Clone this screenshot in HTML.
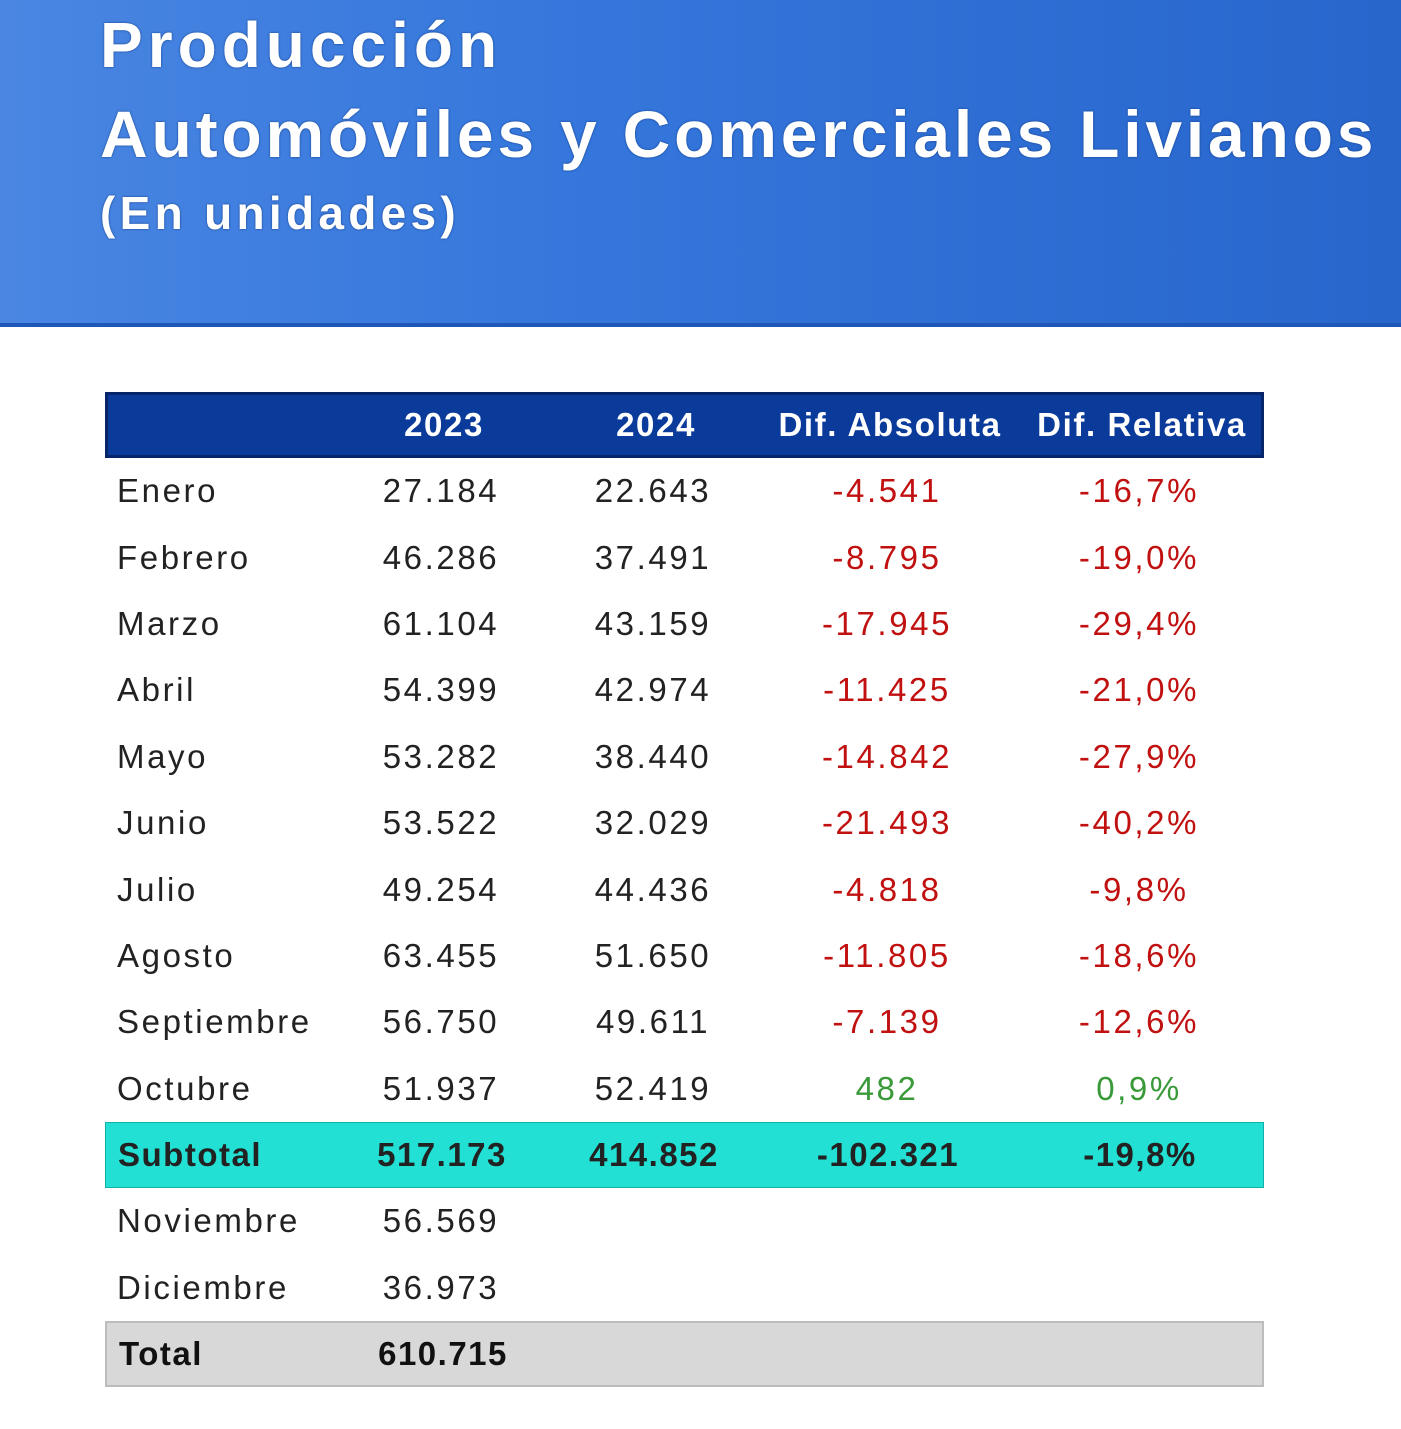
<!DOCTYPE html>
<html><head><meta charset="utf-8"><style>
*{margin:0;padding:0;box-sizing:border-box}
body{width:1401px;height:1429px;background:#fff;font-family:"Liberation Sans",sans-serif;position:relative;overflow:hidden}
.hdr{position:absolute;left:0;top:0;width:1401px;height:327px;background:linear-gradient(90deg,#4a86e2 0%,#3577dc 40%,#2866cc 100%);border-bottom:4px solid #1f57b8}
.t{position:absolute;left:100px;color:#fff;font-weight:bold;white-space:nowrap;text-shadow:0 0 2px #123a80}
.tbl{position:absolute;left:105px;top:392px;width:1159px}
.row{position:relative;height:66.4px;font-size:33px;color:#222;letter-spacing:2.6px}
.row span{position:absolute;top:50%;transform:translate(-50%,-50%);white-space:nowrap}
.row span.l{left:12px;transform:translate(0,-50%)}
.h{background:#0a3a9a;border:3px solid #06256a;color:#fff;font-weight:bold;height:66px;letter-spacing:1.6px}
.r{color:#c01010}.g{color:#3a9a3a}
.sub{background:#22e0d4;font-weight:bold;color:#222;border:1px solid #10b0a8;letter-spacing:1.5px}
.tot{background:#d8d8d8;font-weight:bold;color:#111;border:2px solid #bcbcbc;letter-spacing:1.5px}
</style></head><body>
<div class="hdr">
<div class="t" style="top:8px;font-size:64px;letter-spacing:5px">Producción</div>
<div class="t" style="top:96px;font-size:66px;letter-spacing:3.8px">Automóviles y Comerciales Livianos</div>
<div class="t" style="top:186px;font-size:46px;letter-spacing:4.3px">(En unidades)</div>
</div>
<div class="tbl">
<div class="row h"><span style="left:336px">2023</span><span style="left:548px">2024</span><span style="left:782px">Dif. Absoluta</span><span style="left:1034px">Dif. Relativa</span></div>
<div class="row"><span class="l">Enero</span><span style="left:336px">27.184</span><span style="left:548px">22.643</span><span class="r" style="left:782px">-4.541</span><span class="r" style="left:1034px">-16,7%</span></div>
<div class="row"><span class="l">Febrero</span><span style="left:336px">46.286</span><span style="left:548px">37.491</span><span class="r" style="left:782px">-8.795</span><span class="r" style="left:1034px">-19,0%</span></div>
<div class="row"><span class="l">Marzo</span><span style="left:336px">61.104</span><span style="left:548px">43.159</span><span class="r" style="left:782px">-17.945</span><span class="r" style="left:1034px">-29,4%</span></div>
<div class="row"><span class="l">Abril</span><span style="left:336px">54.399</span><span style="left:548px">42.974</span><span class="r" style="left:782px">-11.425</span><span class="r" style="left:1034px">-21,0%</span></div>
<div class="row"><span class="l">Mayo</span><span style="left:336px">53.282</span><span style="left:548px">38.440</span><span class="r" style="left:782px">-14.842</span><span class="r" style="left:1034px">-27,9%</span></div>
<div class="row"><span class="l">Junio</span><span style="left:336px">53.522</span><span style="left:548px">32.029</span><span class="r" style="left:782px">-21.493</span><span class="r" style="left:1034px">-40,2%</span></div>
<div class="row"><span class="l">Julio</span><span style="left:336px">49.254</span><span style="left:548px">44.436</span><span class="r" style="left:782px">-4.818</span><span class="r" style="left:1034px">-9,8%</span></div>
<div class="row"><span class="l">Agosto</span><span style="left:336px">63.455</span><span style="left:548px">51.650</span><span class="r" style="left:782px">-11.805</span><span class="r" style="left:1034px">-18,6%</span></div>
<div class="row"><span class="l">Septiembre</span><span style="left:336px">56.750</span><span style="left:548px">49.611</span><span class="r" style="left:782px">-7.139</span><span class="r" style="left:1034px">-12,6%</span></div>
<div class="row"><span class="l">Octubre</span><span style="left:336px">51.937</span><span style="left:548px">52.419</span><span class="g" style="left:782px">482</span><span class="g" style="left:1034px">0,9%</span></div>
<div class="row sub"><span class="l">Subtotal</span><span style="left:336px">517.173</span><span style="left:548px">414.852</span><span style="left:782px">-102.321</span><span style="left:1034px">-19,8%</span></div>
<div class="row"><span class="l">Noviembre</span><span style="left:336px">56.569</span></div>
<div class="row"><span class="l">Diciembre</span><span style="left:336px">36.973</span></div>
<div class="row tot"><span class="l">Total</span><span style="left:336px">610.715</span></div>
</div>
</body></html>
